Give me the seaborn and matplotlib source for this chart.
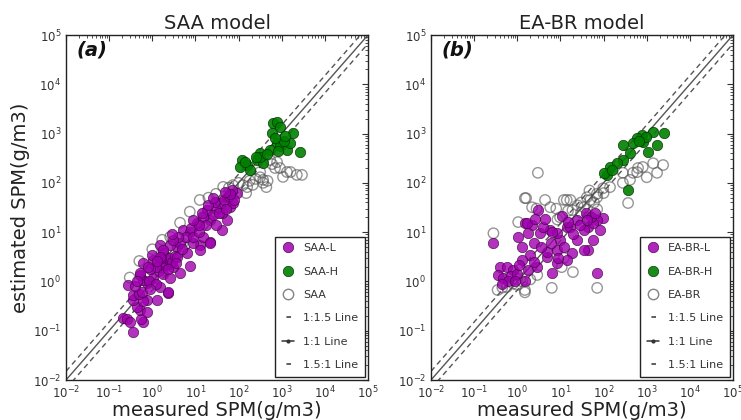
import numpy as np
import pandas as pd
import matplotlib
matplotlib.use("Agg")
import matplotlib.pyplot as plt
from matplotlib.lines import Line2D
from matplotlib.ticker import LogLocator
import seaborn as sns

# ---------------------------------------------------------------------------
# SPM values (g/m3): measured vs. estimated
# ---------------------------------------------------------------------------

# SAA model, low-turbidity scheme
saa_l_meas = [0.21, 0.26, 0.35, 0.30, 0.61, 0.55, 0.52, 0.76, 0.45, 0.35, 0.76, 1.3, 0.62, 0.35,
              0.50, 2.3, 2.3, 0.58, 0.28, 0.40, 0.76, 1.5, 0.61, 1.05, 0.52, 0.52, 0.85, 1.2, 0.9,
              0.45, 0.61, 1.05, 1.8, 1.5, 3.7, 7.4, 12.6, 22, 4.4, 3.0, 2.2, 2.0, 1.7, 2.5, 1.4,
              1.2, 0.9, 2.8, 1.8, 2.6, 3.3, 1.6, 1.0, 2.6, 1.8, 1.5, 3.7, 6.3, 4.4, 8.9, 12.6,
              5.1, 7.4, 10.7, 15, 22, 6.0, 4.0, 3.0, 8.0, 2.8, 5.0, 9.0, 12, 2.3, 3.5, 1.3, 0.8,
              18.6, 22, 41, 54, 41, 37, 63, 74, 54, 91, 30, 25, 15, 18, 28, 45, 60, 70, 35, 12,
              14, 20, 9.0, 30, 50, 80, 65, 48, 25]
saa_l_est = [0.18, 0.17, 0.093, 0.15, 0.15, 0.17, 0.26, 0.24, 0.30, 0.42, 0.42, 0.42, 0.40, 0.53,
             0.55, 0.58, 0.62, 0.62, 0.85, 0.81, 0.93, 0.77, 1.07, 1.2, 1.35, 1.47, 1.0, 0.9, 0.7,
             1.0, 2.4, 2.7, 3.8, 5.5, 5.0, 2.1, 5.5, 6.3, 1.5, 1.95, 2.7, 2.2, 2.0, 3.0, 1.6,
             2.0, 1.8, 2.5, 1.4, 1.2, 3.3, 3.0, 3.5, 5.5, 4.4, 3.2, 3.2, 3.8, 6.0, 6.0, 4.4,
             11, 10, 15.5, 8.0, 6.0, 8.0, 8.0, 7.0, 12, 9.0, 4.5, 8.0, 10, 1.8, 2.4, 2.6, 2.0,
             28, 18, 11, 18, 25, 39, 32, 39, 51, 62, 30, 22, 20, 14, 40, 45, 55, 70, 25, 14,
             25, 35, 18, 14, 30, 45, 60, 65, 50]

# SAA model, high-turbidity scheme
saa_h_meas = [630, 775, 910, 600, 1820, 775, 910, 1320, 1540, 2630, 540, 316, 270, 370, 120, 158,
              107, 186, 320, 1100, 700, 1200, 250, 450, 140, 800]
saa_h_est = [1620, 1700, 1350, 1020, 1020, 650, 550, 470, 650, 430, 470, 410, 290, 250, 290, 230,
             210, 182, 330, 700, 800, 900, 340, 380, 260, 450]

# SAA model, single scheme
saa_meas = [12.6, 7.4, 4.4, 2.6, 1.7, 44, 74, 126, 150, 0.3, 0.5, 1.0, 20, 30, 100, 60,
            316, 370, 470, 780, 910, 1070, 2240, 1320, 214, 158, 540, 600, 1600, 2950, 316,
            370, 440, 250, 180, 700, 2.0, 5.0, 15, 0.8]
saa_est = [45, 26, 15.5, 8.0, 7.0, 83, 90, 90, 62, 1.2, 2.6, 4.5, 50, 60, 100, 80,
           166, 100, 110, 263, 200, 132, 145, 166, 91, 82, 290, 240, 166, 145, 130,
           115, 82, 120, 110, 200, 3.0, 6.0, 20, 1.5]

# EA-BR model, low-turbidity scheme
ea_l_meas = [3.0, 0.28, 1.05, 1.5, 2.2, 3.4, 1.3, 2.0, 1.3, 0.40, 0.57, 0.80, 0.35, 0.47, 0.7,
             1.0, 1.8, 6.3, 2.9, 4.9, 8.3, 5.8, 9.8, 14, 11, 71, 98, 71, 44, 35, 17, 24, 44,
             19, 14, 8.3, 5.0, 9.0, 1.7, 1.8, 2.5, 24, 39, 57, 83, 57, 35, 8.3, 6.5, 0.6,
             0.45, 1.1, 3.5, 6.0, 12, 20, 28, 50, 65, 4.0, 2.5, 1.5, 0.9, 2.6, 4.4, 15, 41]
ea_l_est = [28, 6.0, 8.0, 15.5, 14, 9.5, 5.0, 3.5, 2.7, 1.95, 1.95, 1.7, 1.35, 1.17, 1.3,
            1.4, 1.7, 1.5, 2.0, 3.2, 4.4, 11, 7.0, 12.6, 21, 1.5, 19.5, 18, 12.6, 11, 12.6, 7.0, 4.4,
            3.8, 2.7, 2.4, 4.0, 3.0, 15.5, 9.5, 6.0, 18, 24, 15, 11, 7.0, 4.4, 9.5, 10, 1.0,
            0.9, 2.2, 5.0, 6.0, 5.0, 9.0, 14, 20, 25, 13, 2.5, 1.0, 1.0, 18.5, 18.5, 16, 18]

# EA-BR model, high-turbidity scheme
ea_h_meas = [1410, 2500, 780, 600, 810, 480, 1740, 280, 410, 1070, 280, 141, 120, 100, 370, 950,
             650, 200, 160]
ea_h_est = [1070, 1020, 950, 810, 680, 650, 590, 590, 410, 430, 290, 210, 145, 160, 71, 850,
            700, 250, 180]

# EA-BR model, single scheme
ea_meas = [630, 810, 1410, 2400, 1740, 1000, 480, 410, 280, 370, 141, 100, 71, 49, 35, 17, 14,
           3.0, 1.5, 1.6, 4.4, 5.8, 12, 47, 70, 41, 98, 280, 600, 9.8, 8.5, 15, 19, 71, 45,
           0.28, 1.05, 1.5, 1.5, 6.3, 71, 2.2, 2.8, 10.7, 19.5, 2.9, 2.0, 0.98, 0.8, 0.57,
           0.35, 0.67, 1.0, 1.3, 0.45, 25, 30, 1.2, 12, 30, 60, 8.0]
ea_est = [200, 210, 250, 230, 160, 130, 160, 115, 100, 39, 82, 62, 51, 45, 32, 45, 45,
          160, 49, 49, 45, 32, 45, 70, 60, 51, 78, 160, 165, 20, 18, 27, 28, 29, 20,
          9.5, 16, 0.67, 0.6, 0.74, 0.74, 32, 30, 1.95, 1.55, 1.35, 1.1, 1.1, 0.9, 0.77,
          0.67, 1.2, 0.85, 1.0, 0.75, 35, 25, 1.8, 3.0, 40, 40, 30]

# reference lines span the full axis range
axis_range = [1e-2, 1e5]
ratio_lines = [1.5, 1.0, 1 / 1.5]
ratio_labels = ["1:1.5 Line", "1:1 Line", "1.5:1 Line"]

panels = [
    dict(title="SAA model", tag="(a)", names=["SAA-L", "SAA-H", "SAA"],
         low=(saa_l_meas, saa_l_est), high=(saa_h_meas, saa_h_est), single=(saa_meas, saa_est)),
    dict(title="EA-BR model", tag="(b)", names=["EA-BR-L", "EA-BR-H", "EA-BR"],
         low=(ea_l_meas, ea_l_est), high=(ea_h_meas, ea_h_est), single=(ea_meas, ea_est)),
]

# ---------------------------------------------------------------------------
sns.set_style("white")
plt.rcParams["font.family"] = ["DejaVu Sans"]
plt.rcParams["mathtext.fontset"] = "dejavusans"

PURPLE = "#a000b0"
GREEN = "#008000"
OPEN_EDGE = "#505050"
LINE_COL = "#555555"
DASH = (0, (3.8, 2.8))

fig = plt.figure(figsize=(7.41, 4.20), dpi=100)
axes = [fig.add_axes([66 / 741, 40 / 420, 302 / 741, 345 / 420]),
        fig.add_axes([431 / 741, 40 / 420, 302 / 741, 345 / 420])]

for ax, p in zip(axes, panels):
    ax.set_xscale("log")
    ax.set_yscale("log")

    rng = np.array(axis_range)
    for r in ratio_lines:
        ls = "-" if r == 1.0 else DASH
        ax.plot(rng, rng * r, color=LINE_COL, lw=1.0, linestyle=ls, zorder=1)

    single = pd.DataFrame({"meas": p["single"][0], "est": p["single"][1]})
    low = pd.DataFrame({"meas": p["low"][0], "est": p["low"][1]})
    high = pd.DataFrame({"meas": p["high"][0], "est": p["high"][1]})

    sns.scatterplot(data=single, x="meas", y="est", ax=ax, s=56, facecolor="none",
                    edgecolor=OPEN_EDGE, linewidth=1.0, alpha=0.6, legend=False, zorder=2)
    sns.scatterplot(data=low, x="meas", y="est", ax=ax, s=56, color=PURPLE,
                    edgecolor="#3a003a", linewidth=0.5, alpha=0.8, legend=False, zorder=3)
    sns.scatterplot(data=high, x="meas", y="est", ax=ax, s=56, color=GREEN,
                    edgecolor="#003000", linewidth=0.5, alpha=0.9, legend=False, zorder=4)

    ax.set_xlim(axis_range)
    ax.set_ylim(axis_range)
    ax.xaxis.set_major_locator(LogLocator(base=10, numticks=20))
    ax.yaxis.set_major_locator(LogLocator(base=10, numticks=20))
    ax.xaxis.set_minor_locator(LogLocator(base=10, subs=np.arange(2, 10), numticks=100))
    ax.yaxis.set_minor_locator(LogLocator(base=10, subs=np.arange(2, 10), numticks=100))
    ax.tick_params(which="both", direction="in", top=True, right=True, colors="#333333",
                   labelsize=8.5)
    ax.tick_params(which="major", length=4, width=0.8)
    ax.tick_params(which="minor", length=2, width=0.6)
    for sp in ax.spines.values():
        sp.set_color("#222222")
        sp.set_linewidth(1.0)

    ax.set_title(p["title"], fontsize=14, pad=4, color="#222222")
    ax.set_xlabel("measured SPM(g/m3)", fontsize=14, labelpad=0, color="#222222")
    ax.set_ylabel("")
    ax.text(0.035, 0.985, p["tag"], transform=ax.transAxes, ha="left", va="top",
            fontsize=14, fontweight="bold", fontstyle="italic", color="#111111")

    handles = [
        Line2D([], [], marker="o", linestyle="none", markersize=7.5, color=PURPLE,
               markeredgecolor="#3a003a", markeredgewidth=0.5, alpha=0.85),
        Line2D([], [], marker="o", linestyle="none", markersize=7.5, color=GREEN,
               markeredgecolor="#003000", markeredgewidth=0.5, alpha=0.9),
        Line2D([], [], marker="o", linestyle="none", markersize=7.5, markerfacecolor="none",
               markeredgecolor=OPEN_EDGE, markeredgewidth=1.0, alpha=0.7),
        Line2D([], [], color="#333333", lw=1.1, linestyle=(3.0, (3.0, 2.9))),
        Line2D([], [], color="#333333", lw=1.1, marker=".", markersize=4),
        Line2D([], [], color="#333333", lw=1.1, linestyle=(3.0, (3.0, 2.9))),
    ]
    labels = p["names"] + ratio_labels
    leg = ax.legend(handles, labels, loc="lower right", fontsize=8, frameon=True,
                    fancybox=False, edgecolor="#222222", framealpha=1, borderaxespad=0.3,
                    handlelength=1.1, handletextpad=0.8, labelspacing=1.2, borderpad=0.6,
                    numpoints=1)
    leg.get_frame().set_linewidth(1.0)
    for t in leg.get_texts():
        t.set_color("#333333")

axes[0].set_ylabel("estimated SPM(g/m3)", fontsize=14, labelpad=2, color="#222222")

fig.savefig("out.png", dpi=100)
